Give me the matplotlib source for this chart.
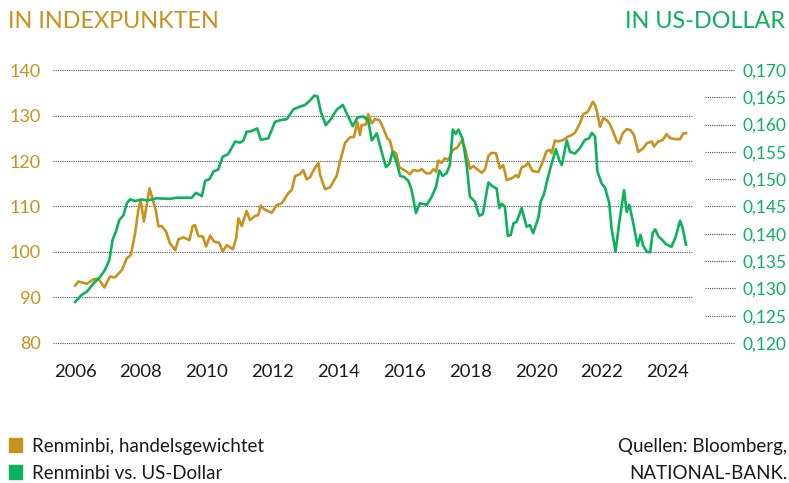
import matplotlib
matplotlib.use('Agg')
import matplotlib.pyplot as plt
from matplotlib.ticker import FuncFormatter

plt.rcParams['font.family'] = ['Lato', 'DejaVu Sans']

GOLD = '#C8921C'
GREEN = '#0BB25A'
TEXT = '#1a1a1a'

# trade-weighted renminbi, index points (left axis)
twi_years = [2006.00, 2006.10, 2006.36, 2006.56, 2006.71, 2006.89, 2007.06, 2007.21, 2007.42, 2007.57,
             2007.69, 2007.82, 2007.92, 2007.99, 2008.09, 2008.26, 2008.38, 2008.45, 2008.53, 2008.63,
             2008.76, 2008.88, 2009.04, 2009.14, 2009.29, 2009.47, 2009.57, 2009.64, 2009.74, 2009.88,
             2009.98, 2010.10, 2010.22, 2010.38, 2010.48, 2010.61, 2010.79, 2010.89, 2010.96, 2011.06,
             2011.21, 2011.31, 2011.46, 2011.56, 2011.64, 2011.74, 2011.97, 2012.12, 2012.28, 2012.48,
             2012.58, 2012.68, 2012.83, 2012.93, 2013.03, 2013.13, 2013.26, 2013.39, 2013.44, 2013.59,
             2013.74, 2013.94, 2014.07, 2014.20, 2014.35, 2014.47, 2014.57, 2014.65, 2014.70, 2014.83,
             2014.90, 2015.01, 2015.11, 2015.24, 2015.36, 2015.48, 2015.56, 2015.64, 2015.75, 2015.85,
             2016.02, 2016.17, 2016.27, 2016.42, 2016.53, 2016.66, 2016.78, 2016.88, 2016.96, 2017.03,
             2017.13, 2017.23, 2017.33, 2017.47, 2017.61, 2017.74, 2017.84, 2017.99, 2018.09, 2018.35,
             2018.45, 2018.55, 2018.65, 2018.78, 2018.90, 2019.00, 2019.11, 2019.26, 2019.39, 2019.46,
             2019.56, 2019.66, 2019.76, 2019.89, 2020.07, 2020.17, 2020.32, 2020.42, 2020.47, 2020.57,
             2020.67, 2020.82, 2020.95, 2021.08, 2021.18, 2021.33, 2021.43, 2021.55, 2021.61, 2021.72,
             2021.79, 2021.86, 2021.94, 2022.04, 2022.14, 2022.24, 2022.34, 2022.45, 2022.52, 2022.63,
             2022.75, 2022.87, 2022.97, 2023.10, 2023.25, 2023.36, 2023.51, 2023.58, 2023.71, 2023.84,
             2023.96, 2024.06, 2024.21, 2024.37, 2024.47, 2024.55]
twi_values = [92.6, 93.5, 93.0, 94.0, 94.1, 92.2, 94.6, 94.4, 96.0, 98.6,
              99.3, 104.0, 109.2, 111.4, 106.7, 114.0, 111.0, 109.2, 105.6, 105.7,
              104.5, 101.9, 100.4, 102.8, 103.2, 102.6, 105.7, 105.9, 103.5, 103.4,
              101.2, 103.6, 102.3, 102.0, 100.1, 101.5, 100.6, 103.0, 107.4, 105.7,
              109.0, 107.0, 107.9, 108.1, 110.2, 109.4, 108.6, 110.3, 110.7, 113.0,
              113.6, 116.7, 117.1, 118.0, 116.0, 116.4, 118.2, 119.6, 116.9, 113.8,
              114.2, 116.7, 120.6, 124.0, 125.2, 125.3, 128.6, 125.7, 127.9, 128.0,
              130.3, 128.3, 129.2, 129.0, 127.2, 125.0, 124.5, 122.2, 121.7, 118.6,
              117.9, 117.1, 118.0, 117.8, 118.2, 117.3, 117.3, 118.2, 117.6, 120.1,
              119.6, 120.6, 120.2, 122.4, 123.0, 124.5, 122.8, 118.3, 118.9, 117.4,
              118.2, 121.1, 121.8, 121.7, 118.4, 119.1, 115.8, 116.2, 116.9, 116.4,
              118.6, 118.9, 119.6, 117.8, 117.6, 119.3, 122.2, 122.4, 121.7, 124.5,
              124.3, 124.6, 125.3, 125.7, 126.2, 128.3, 130.3, 130.7, 131.4, 133.0,
              132.3, 130.5, 127.5, 129.4, 129.0, 128.1, 126.4, 124.3, 123.9, 126.1,
              127.0, 126.8, 125.7, 122.0, 122.8, 123.9, 124.3, 123.2, 124.3, 124.6,
              125.9, 125.1, 124.8, 124.8, 126.1, 126.1]

# renminbi in US dollars (right axis)
usd_years = [2006.00, 2006.20, 2006.36, 2006.56, 2006.76, 2006.91, 2007.04, 2007.14, 2007.24, 2007.34,
             2007.47, 2007.57, 2007.67, 2007.82, 2008.02, 2008.19, 2008.48, 2008.88, 2009.09, 2009.54,
             2009.67, 2009.85, 2009.95, 2010.08, 2010.20, 2010.35, 2010.48, 2010.65, 2010.86, 2011.01,
             2011.11, 2011.21, 2011.36, 2011.53, 2011.64, 2011.87, 2012.07, 2012.22, 2012.43, 2012.63,
             2012.83, 2012.98, 2013.13, 2013.26, 2013.36, 2013.46, 2013.61, 2013.74, 2013.94, 2014.13,
             2014.27, 2014.43, 2014.57, 2014.75, 2014.90, 2015.01, 2015.16, 2015.31, 2015.44, 2015.54,
             2015.64, 2015.75, 2015.87, 2015.99, 2016.12, 2016.22, 2016.35, 2016.47, 2016.68, 2016.83,
             2016.96, 2017.06, 2017.16, 2017.28, 2017.38, 2017.47, 2017.56, 2017.64, 2017.77, 2017.89,
             2017.99, 2018.14, 2018.27, 2018.38, 2018.55, 2018.65, 2018.80, 2018.88, 2018.95, 2019.05,
             2019.14, 2019.23, 2019.31, 2019.41, 2019.56, 2019.71, 2019.81, 2019.91, 2020.07, 2020.14,
             2020.24, 2020.32, 2020.44, 2020.60, 2020.70, 2020.78, 2020.93, 2021.03, 2021.18, 2021.33,
             2021.48, 2021.61, 2021.69, 2021.79, 2021.86, 2021.99, 2022.09, 2022.22, 2022.29, 2022.41,
             2022.52, 2022.67, 2022.75, 2022.83, 2022.95, 2023.08, 2023.17, 2023.25, 2023.36, 2023.46,
             2023.54, 2023.62, 2023.71, 2023.81, 2023.94, 2024.11, 2024.24, 2024.37, 2024.45, 2024.55]
usd_values = [0.1275, 0.1288, 0.1294, 0.1309, 0.1321, 0.1334, 0.1352, 0.1389, 0.1404, 0.1425,
              0.1434, 0.1456, 0.1463, 0.1460, 0.1463, 0.1461, 0.1465, 0.1464, 0.1466, 0.1466,
              0.1475, 0.1469, 0.1497, 0.1500, 0.1514, 0.1518, 0.1541, 0.1546, 0.1569, 0.1567,
              0.1571, 0.1587, 0.1588, 0.1593, 0.1572, 0.1575, 0.1605, 0.1608, 0.1610, 0.1628,
              0.1633, 0.1636, 0.1644, 0.1653, 0.1652, 0.1624, 0.1599, 0.1608, 0.1627, 0.1636,
              0.1618, 0.1597, 0.1613, 0.1615, 0.1608, 0.1571, 0.1584, 0.1550, 0.1522, 0.1528,
              0.1550, 0.1534, 0.1506, 0.1504, 0.1497, 0.1480, 0.1438, 0.1456, 0.1453, 0.1468,
              0.1486, 0.1516, 0.1506, 0.1511, 0.1526, 0.1591, 0.1583, 0.1591, 0.1573, 0.1526,
              0.1468, 0.1459, 0.1433, 0.1436, 0.1494, 0.1488, 0.1483, 0.1447, 0.1455, 0.1450,
              0.1396, 0.1398, 0.1419, 0.1422, 0.1447, 0.1413, 0.1416, 0.1401, 0.1430, 0.1459,
              0.1473, 0.1494, 0.1522, 0.1555, 0.1535, 0.1526, 0.1571, 0.1550, 0.1547, 0.1557,
              0.1572, 0.1575, 0.1585, 0.1578, 0.1514, 0.1492, 0.1485, 0.1456, 0.1410, 0.1367,
              0.1419, 0.1480, 0.1440, 0.1453, 0.1419, 0.1378, 0.1398, 0.1378, 0.1367, 0.1366,
              0.1402, 0.1408, 0.1395, 0.1390, 0.1381, 0.1376, 0.1395, 0.1424, 0.1410, 0.1380]

left_ticks = [80, 90, 100, 110, 120, 130, 140]
right_ticks = [0.120, 0.125, 0.130, 0.135, 0.140, 0.145, 0.150, 0.155, 0.160, 0.165, 0.170]
year_ticks = [2006, 2008, 2010, 2012, 2014, 2016, 2018, 2020, 2022, 2024]

fig = plt.figure(figsize=(7.89, 4.83), dpi=100)
ax = fig.add_axes([0.0672, 0.290, 0.811, 0.565])
ax2 = ax.twinx()

ax.set_xlim(2005.33, 2024.76)
ax.set_ylim(80, 140)
ax2.set_ylim(0.120, 0.170)

grid_kw = dict(color='#555555', linestyle=(0, (1, 1)), linewidth=0.8, clip_on=False, zorder=0)
for v in left_ticks:
    x_end = 1.066 if v in (80, 140) else 1.0
    ax.plot([0, x_end], [v, v], transform=ax.get_yaxis_transform(), **grid_kw)
# short guide lines next to the dollar scale
for v in right_ticks[1:-1]:
    ax2.plot([1.019, 1.066], [v, v], transform=ax2.get_yaxis_transform(), **grid_kw)

ax.plot(twi_years, twi_values, color=GOLD, linewidth=1.9, zorder=3, solid_joinstyle='round')
ax2.plot(usd_years, usd_values, color=GREEN, linewidth=1.9, zorder=3, solid_joinstyle='round')

for a in (ax, ax2):
    for s in a.spines.values():
        s.set_visible(False)

ax.set_xticks(year_ticks)
ax.set_xticklabels([str(y) for y in year_ticks])
ax.tick_params(axis='x', length=0, pad=15, labelsize=13.3, labelcolor=TEXT)
ax.set_yticks(left_ticks)
ax.tick_params(axis='y', length=0, pad=9, labelsize=13, labelcolor=GOLD)
ax2.set_yticks(right_ticks)
ax2.yaxis.set_major_formatter(FuncFormatter(lambda v, p: f'{v:.3f}'.replace('.', ',')))
ax2.tick_params(axis='y', length=0, pad=36, labelsize=12.5, labelcolor=GREEN)

fig.text(0.010, 0.955, 'IN INDEXPUNKTEN', color=GOLD, fontsize=16.8, ha='left', va='center')
fig.text(0.995, 0.955, 'IN US-DOLLAR', color=GREEN, fontsize=16.8, ha='right', va='center')

# legend and source
fig.patches.append(plt.Rectangle((0.0114, 0.0642), 0.0165, 0.029, transform=fig.transFigure, color=GOLD))
fig.patches.append(plt.Rectangle((0.0114, 0.0083), 0.0165, 0.029, transform=fig.transFigure, color=GREEN))
fig.text(0.040, 0.0648, 'Renminbi, handelsgewichtet', fontsize=13.5, va='baseline', color=TEXT)
fig.text(0.040, 0.0093, 'Renminbi vs. US-Dollar', fontsize=13.5, va='baseline', color=TEXT)
fig.text(0.997, 0.0648, 'Quellen: Bloomberg,', fontsize=13.5, va='baseline', ha='right', color=TEXT)
fig.text(0.998, 0.0093, 'NATIONAL-BANK.', fontsize=13.5, va='baseline', ha='right', color=TEXT)

fig.savefig('out.png', dpi=100)
